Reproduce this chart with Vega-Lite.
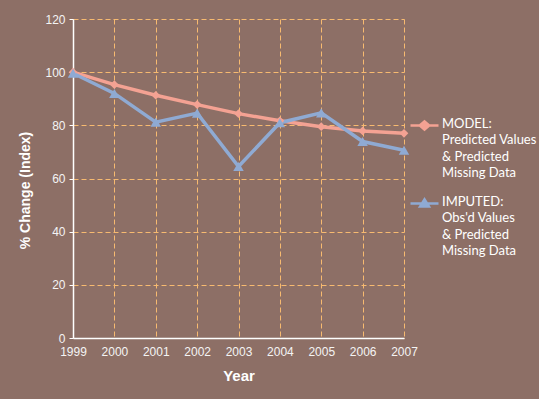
{
  "$schema": "https://vega.github.io/schema/vega-lite/v6.json",
  "width": 331,
  "height": 319,
  "autosize": {"type": "none"},
  "padding": {"left": 73, "top": 19, "right": 135, "bottom": 61},
  "background": "#8D6F66",
  "config": {"view": {"stroke": null}, "font": "Liberation Sans"},
  "data": {
    "values": [
      {"year": 1999, "series": "MODEL", "value": 100},
      {"year": 2000, "series": "MODEL", "value": 95.3},
      {"year": 2001, "series": "MODEL", "value": 91.3},
      {"year": 2002, "series": "MODEL", "value": 87.8},
      {"year": 2003, "series": "MODEL", "value": 84.4},
      {"year": 2004, "series": "MODEL", "value": 81.7},
      {"year": 2005, "series": "MODEL", "value": 79.5},
      {"year": 2006, "series": "MODEL", "value": 77.9},
      {"year": 2007, "series": "MODEL", "value": 77.0},
      {"year": 1999, "series": "IMPUTED", "value": 99.6},
      {"year": 2000, "series": "IMPUTED", "value": 92.0},
      {"year": 2001, "series": "IMPUTED", "value": 81.2},
      {"year": 2002, "series": "IMPUTED", "value": 84.6},
      {"year": 2003, "series": "IMPUTED", "value": 64.5},
      {"year": 2004, "series": "IMPUTED", "value": 81.0},
      {"year": 2005, "series": "IMPUTED", "value": 84.7},
      {"year": 2006, "series": "IMPUTED", "value": 73.9},
      {"year": 2007, "series": "IMPUTED", "value": 70.6}
    ]
  },
  "encoding": {
    "x": {
      "field": "year",
      "type": "quantitative",
      "scale": {"domain": [1999, 2007], "nice": false, "zero": false},
      "axis": {
        "title": "Year",
        "values": [1999, 2000, 2001, 2002, 2003, 2004, 2005, 2006, 2007],
        "format": "d",
        "grid": true,
        "gridColor": "#F7BA70",
        "gridDash": [5, 3],
        "gridWidth": 1,
        "domainColor": "#FFFFFF",
        "domainWidth": 1.5,
        "ticks": false,
        "labelColor": "#F4F4F4",
        "labelFont": "Liberation Sans",
        "labelFontSize": 12,
        "labelPadding": 8,
        "labelFlush": false,
        "titleColor": "#FFFFFF",
        "titleFont": "Liberation Sans",
        "titleFontSize": 15,
        "titleFontWeight": "bold",
        "titlePadding": 11
      }
    },
    "y": {
      "field": "value",
      "type": "quantitative",
      "scale": {"domain": [0, 120], "nice": false},
      "axis": {
        "title": "% Change (Index)",
        "values": [0, 20, 40, 60, 80, 100, 120],
        "grid": true,
        "gridColor": "#F7BA70",
        "gridDash": [5, 3],
        "gridWidth": 1,
        "domainColor": "#FFFFFF",
        "domainWidth": 1.5,
        "tickColor": "#FFFFFF",
        "tickSize": 4,
        "labelColor": "#F4F4F4",
        "labelFont": "Liberation Sans",
        "labelFontSize": 12,
        "labelPadding": 4,
        "titleColor": "#FFFFFF",
        "titleFont": "Liberation Sans",
        "titleFontSize": 14,
        "titleFontWeight": "bold",
        "titlePadding": 12,
        "titleY": 171
      }
    }
  },
  "layer": [
    {
      "mark": {"type": "line", "strokeWidth": 3.5},
      "encoding": {
        "color": {
          "field": "series",
          "type": "nominal",
          "scale": {"domain": ["MODEL", "IMPUTED"], "range": ["#F4A293", "#8FAAD3"]},
          "legend": {
            "orient": "none",
            "legendX": 336,
            "legendY": 91,
            "title": null,
            "padding": 0,
            "labelExpr": "datum.value === 'MODEL' ? ['MODEL:', 'Predicted Values', '& Predicted', 'Missing Data'] : ['IMPUTED:', \"Obs'd Values\", '& Predicted', 'Missing Data']",
            "labelFont": "Lato",
            "labelFontSize": 13,
            "labelColor": "#FFFFFF",
            "labelBaseline": "top",
            "labelOffset": 2,
            "labelLimit": 200,
            "symbolType": "M-1,0H1",
            "symbolSize": 784,
            "symbolStrokeWidth": 2.5,
            "rowPadding": 8,
            "encode": {
              "symbols": {
                "update": {
                  "shape": {"signal": "datum.value === 'MODEL' ? 'M-1,0H1M-0.34,0L0,-0.3L0.34,0L0,0.3Z' : 'M-1,0H1M-0.32,0.22L0,-0.3L0.32,0.22Z'"},
                  "fill": {"signal": "datum.value === 'MODEL' ? '#F4A293' : '#8FAAD3'"},
                  "strokeWidth": {"value": 2.5}
                }
              },
              "labels": {"update": {"lineHeight": {"value": 16.5}, "dy": {"value": -8}}}
            }
          }
        }
      }
    },
    {
      "transform": [{"filter": "datum.series === 'MODEL'"}],
      "mark": {"type": "point", "filled": true, "opacity": 1, "shape": "diamond", "size": 75, "color": "#F4A293"}
    },
    {
      "transform": [{"filter": "datum.series === 'IMPUTED'"}],
      "mark": {"type": "point", "filled": true, "opacity": 1, "shape": "triangle-up", "size": 110, "color": "#8FAAD3"}
    }
  ]
}
